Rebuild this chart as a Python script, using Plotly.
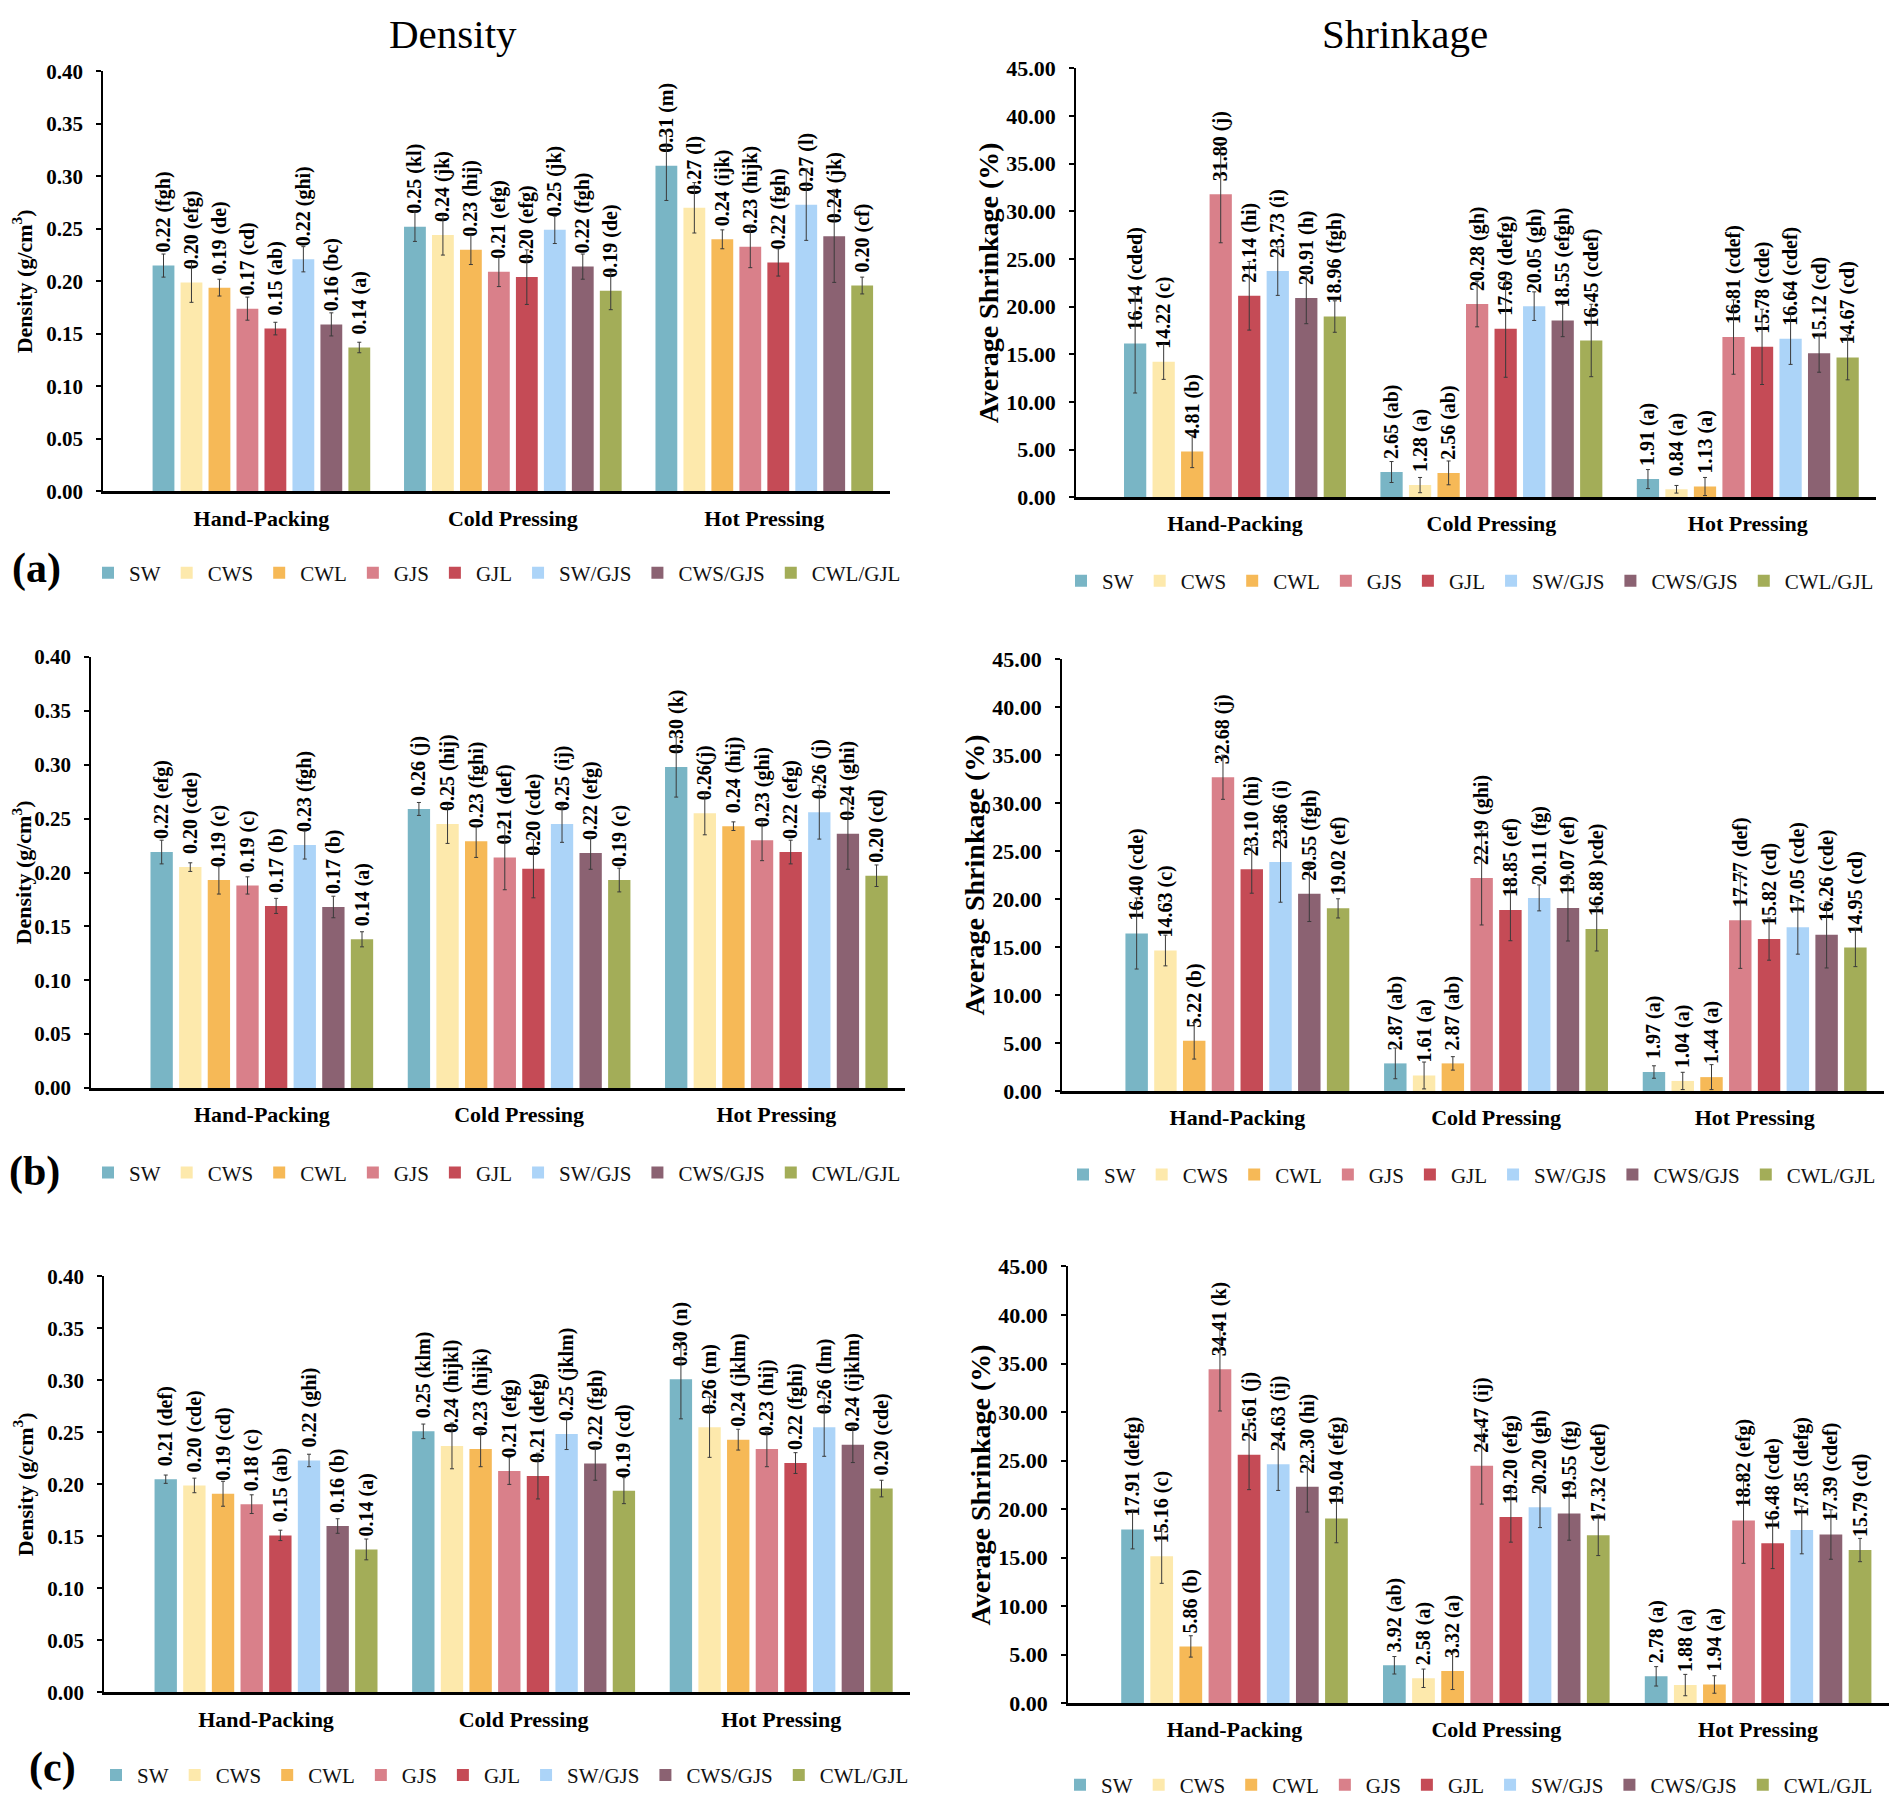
import plotly.graph_objects as go

W, H = 1902, 1802
FONT = "Liberation Serif"

categories = ["Hand-Packing", "Cold Pressing", "Hot Pressing"]
series = ["SW", "CWS", "CWL", "GJS", "GJL", "SW/GJS", "CWS/GJS", "CWL/GJL"]
colors = ["#79b5c5", "#fde9ac", "#f6b957", "#d9808a",
          "#c54b56", "#acd4f8", "#8b6272", "#a3ad58"]

# (a) density, one row per series: hand-packing, cold pressing, hot pressing
density_a = [[0.215, 0.252, 0.310], [0.199, 0.244, 0.270], [0.194, 0.230, 0.240],
             [0.174, 0.209, 0.233], [0.155, 0.204, 0.218], [0.221, 0.249, 0.273],
             [0.159, 0.214, 0.243], [0.137, 0.191, 0.196]]
density_a_err = [[0.011, 0.014, 0.033], [0.019, 0.019, 0.024], [0.008, 0.014, 0.009],
                 [0.011, 0.014, 0.020], [0.006, 0.026, 0.013], [0.012, 0.013, 0.034],
                 [0.011, 0.012, 0.044], [0.005, 0.018, 0.008]]
density_a_text = [["0.22 (fgh)", "0.25 (kl)", "0.31 (m)"],
                  ["0.20 (efg)", "0.24 (jk)", "0.27 (l)"],
                  ["0.19 (de)", "0.23 (hij)", "0.24 (ijk)"],
                  ["0.17 (cd)", "0.21 (efg)", "0.23 (hijk)"],
                  ["0.15 (ab)", "0.20 (efg)", "0.22 (fgh)"],
                  ["0.22 (ghi)", "0.25 (jk)", "0.27 (l)"],
                  ["0.16 (bc)", "0.22 (fgh)", "0.24 (jk)"],
                  ["0.14 (a)", "0.19 (de)", "0.20 (cf)"]]

# (a) shrinkage
shrink_a = [[16.14, 2.65, 1.91], [14.22, 1.28, 0.84], [4.81, 2.56, 1.13],
            [31.80, 20.28, 16.81], [21.14, 17.69, 15.78], [23.73, 20.05, 16.64],
            [20.91, 18.55, 15.12], [18.96, 16.45, 14.67]]
shrink_a_err = [[5.2, 1.1, 1.0], [1.85, 0.8, 0.4], [1.7, 1.25, 0.95],
                [5.1, 2.4, 3.9], [3.6, 5.1, 3.95], [2.55, 1.5, 2.7],
                [2.7, 1.7, 2.0], [1.65, 3.8, 2.35]]
shrink_a_text = [["16.14 (cded)", "2.65 (ab)", "1.91 (a)"],
                 ["14.22 (c)", "1.28 (a)", "0.84 (a)"],
                 ["4.81 (b)", "2.56 (ab)", "1.13 (a)"],
                 ["31.80 (j)", "20.28 (gh)", "16.81 (cdef)"],
                 ["21.14 (hi)", "17.69 (defg)", "15.78 (cde)"],
                 ["23.73 (i)", "20.05 (gh)", "16.64 (cdef)"],
                 ["20.91 (h)", "18.55 (efgh)", "15.12 (cd)"],
                 ["18.96 (fgh)", "16.45 (cdef)", "14.67 (cd)"]]

# (b) density
density_b = [[0.219, 0.259, 0.298], [0.205, 0.245, 0.255], [0.193, 0.229, 0.243],
             [0.188, 0.214, 0.230], [0.169, 0.2035, 0.219], [0.2255, 0.245, 0.256],
             [0.168, 0.218, 0.236], [0.138, 0.193, 0.197]]
density_b_err = [[0.011, 0.006, 0.028], [0.004, 0.018, 0.020], [0.013, 0.015, 0.004],
                 [0.008, 0.030, 0.019], [0.007, 0.027, 0.011], [0.013, 0.017, 0.025],
                 [0.010, 0.015, 0.033], [0.007, 0.011, 0.010]]
density_b_text = [["0.22 (efg)", "0.26 (j)", "0.30 (k)"],
                  ["0.20 (cde)", "0.25 (hij)", "0.26(j)"],
                  ["0.19 (c)", "0.23 (fghi)", "0.24 (hij)"],
                  ["0.19 (c)", "0.21 (def)", "0.23 (ghi)"],
                  ["0.17 (b)", "0.20 (cde)", "0.22 (efg)"],
                  ["0.23 (fgh)", "0.25 (ij)", "0.26 (j)"],
                  ["0.17 (b)", "0.22 (efg)", "0.24 (ghi)"],
                  ["0.14 (a)", "0.19 (c)", "0.20 (cd)"]]

# (b) shrinkage
shrink_b = [[16.40, 2.87, 1.97], [14.63, 1.61, 1.04], [5.22, 2.87, 1.44],
            [32.68, 22.19, 17.77], [23.10, 18.85, 15.82], [23.86, 20.11, 17.05],
            [20.55, 19.07, 16.26], [19.02, 16.88, 14.95]]
shrink_b_err = [[3.7, 1.6, 0.65], [1.6, 1.4, 0.9], [1.9, 0.7, 1.3],
                [2.3, 4.9, 5.0], [2.5, 3.2, 2.2], [4.2, 1.35, 2.8],
                [2.9, 3.45, 3.45], [1.0, 2.3, 2.0]]
shrink_b_text = [["16.40 (cde)", "2.87 (ab)", "1.97 (a)"],
                 ["14.63 (c)", "1.61 (a)", "1.04 (a)"],
                 ["5.22 (b)", "2.87 (ab)", "1.44 (a)"],
                 ["32.68 (j)", "22.19 (ghi)", "17.77 (def)"],
                 ["23.10 (hi)", "18.85 (ef)", "15.82 (cd)"],
                 ["23.86 (i)", "20.11 (fg)", "17.05 (cde)"],
                 ["20.55 (fgh)", "19.07 (ef)", "16.26 (cde)"],
                 ["19.02 (ef)", "16.88 )cde)", "14.95 (cd)"]]

# (c) density
density_c = [[0.205, 0.251, 0.301], [0.199, 0.237, 0.255], [0.191, 0.234, 0.243],
             [0.181, 0.213, 0.234], [0.151, 0.208, 0.2205], [0.223, 0.2485, 0.255],
             [0.160, 0.220, 0.238], [0.1375, 0.194, 0.196]]
density_c_err = [[0.004, 0.007, 0.038], [0.007, 0.022, 0.029], [0.012, 0.017, 0.010],
                 [0.009, 0.013, 0.017], [0.005, 0.022, 0.010], [0.006, 0.015, 0.028],
                 [0.007, 0.016, 0.017], [0.010, 0.0125, 0.008]]
density_c_text = [["0.21 (def)", "0.25 (klm)", "0.30 (n)"],
                  ["0.20 (cde)", "0.24 (hijkl)", "0.26 (m)"],
                  ["0.19 (cd)", "0.23 (hijk)", "0.24 (jklm)"],
                  ["0.18 (c)", "0.21 (efg)", "0.23 (hij)"],
                  ["0.15 (ab)", "0.21 (defg)", "0.22 (fghi)"],
                  ["0.22 (ghi)", "0.25 (jklm)", "0.26 (lm)"],
                  ["0.16 (b)", "0.22 (fgh)", "0.24 (ijklm)"],
                  ["0.14 (a)", "0.19 (cd)", "0.20 (cde)"]]

# (c) shrinkage
shrink_c = [[17.91, 3.92, 2.78], [15.16, 2.58, 1.88], [5.86, 3.32, 1.94],
            [34.41, 24.47, 18.82], [25.61, 19.20, 16.48], [24.63, 20.20, 17.85],
            [22.30, 19.55, 17.39], [19.04, 17.32, 15.79]]
shrink_c_err = [[2.0, 0.9, 1.0], [2.8, 0.95, 1.1], [1.1, 1.9, 0.9],
                [4.3, 3.95, 4.4], [3.6, 2.6, 2.6], [2.7, 2.1, 2.45],
                [2.6, 2.75, 2.55], [2.5, 2.1, 1.2]]
shrink_c_text = [["17.91 (defg)", "3.92 (ab)", "2.78 (a)"],
                 ["15.16 (c)", "2.58 (a)", "1.88 (a)"],
                 ["5.86 (b)", "3.32 (a)", "1.94 (a)"],
                 ["34.41 (k)", "24.47 (ij)", "18.82 (efg)"],
                 ["25.61 (j)", "19.20 (efg)", "16.48 (cde)"],
                 ["24.63 (ij)", "20.20 (gh)", "17.85 (defg)"],
                 ["22.30 (hi)", "19.55 (fg)", "17.39 (cdef)"],
                 ["19.04 (efg)", "17.32 (cdef)", "15.79 (cd)"]]


def fx(px):
    return px / W


def fy(py):
    return 1 - py / H


# plot areas in figure pixels (left, right, top, bottom), left x-range end, legend row
panels = [
    dict(vals=density_a, err=density_a_err, text=density_a_text, kind="d",
         box=(95, 882, 52, 478), x0=-0.63, legend_xy=(79, 561)),
    dict(vals=shrink_a, err=shrink_a_err, text=shrink_a_text, kind="s",
         box=(1068, 1868, 49, 484), x0=-0.62, legend_xy=(1052, 569)),
    dict(vals=density_b, err=density_b_err, text=density_b_text, kind="d",
         box=(83, 897, 646, 1083), x0=-0.664, legend_xy=(79, 1169)),
    dict(vals=shrink_b, err=shrink_b_err, text=shrink_b_text, kind="s",
         box=(1054, 1876, 648, 1086), x0=-0.678, legend_xy=(1054, 1171)),
    dict(vals=density_c, err=density_c_err, text=density_c_text, kind="d",
         box=(96, 902, 1274, 1696), x0=-0.629, legend_xy=(87, 1780)),
    dict(vals=shrink_c, err=shrink_c_err, text=shrink_c_text, kind="s",
         box=(1060, 1881, 1264, 1707), x0=-0.636, legend_xy=(1051, 1790)),
]

PAD = "\u00a0\u00a0"

fig = go.Figure()
layout = {}
for p, pan in enumerate(panels):
    n = "" if p == 0 else str(p + 1)
    leg = "legend" + n
    for i, s in enumerate(series):
        fig.add_trace(go.Bar(
            x=categories, y=pan["vals"][i], name=s,
            marker=dict(color=colors[i], line=dict(width=0)),
            error_y=dict(type="data", array=pan["err"][i], thickness=1,
                         width=2, color="#3a3a3a"),
            text=[PAD + t for t in pan["text"][i]],
            textposition="outside", textangle=-90, constraintext="none",
            textfont=dict(family=FONT, size=20, color="black", weight="bold"),
            cliponaxis=False, legend=leg,
            xaxis="x" + n, yaxis="y" + n,
        ))

    l, r, t, b = pan["box"]
    dens = pan["kind"] == "d"
    layout["xaxis" + n] = dict(
        domain=[fx(l), fx(r)], anchor="y" + n, range=[pan["x0"], 2.5],
        showline=True, linecolor="black", linewidth=2.5, showgrid=False,
        ticks="outside", ticklen=5, tickcolor="rgba(0,0,0,0)",
        tickfont=dict(family=FONT, size=22, color="black", weight="bold"),
    )
    layout["yaxis" + n] = dict(
        domain=[fy(b), fy(t)], anchor="x" + n,
        range=[0, 0.40] if dens else [0, 45],
        dtick=0.05 if dens else 5, tickformat=".2f",
        showline=True, linecolor="black", linewidth=1.5, showgrid=False,
        zeroline=False, ticks="outside", ticklen=5, tickwidth=1.5,
        tickcolor="black", ticklabelstandoff=9,
        tickfont=dict(family=FONT, size=21 if dens else 22, color="black",
                      weight="bold"),
        title=dict(text="Density (g/cm<sup>3</sup>)" if dens else "Average Shrinkage (%)",
                   standoff=8 if dens else 0,
                   font=dict(family=FONT, size=22 if dens else 28,
                             color="black", weight="bold")),
    )
    lx, ly = pan["legend_xy"]
    layout[leg] = dict(
        orientation="h", x=fx(lx), y=fy(ly), xanchor="left", yanchor="middle",
        font=dict(family=FONT, size=21, color="#111111"),
        bgcolor="rgba(0,0,0,0)", itemwidth=32, traceorder="normal",
    )

# column titles and panel letters: (text, x px, y px, size, bold)
labels = [
    ("Density", 445, 14, 41, False),
    ("Shrinkage", 1397, 14, 41, False),
    ("(a)", 28, 556, 42, True),
    ("(b)", 26, 1168, 42, True),
    ("(c)", 44, 1772, 42, True),
]

fig.update_layout(
    **layout,
    width=W, height=H,
    margin=dict(l=0, r=0, t=0, b=0),
    paper_bgcolor="white", plot_bgcolor="white",
    barmode="group", bargap=0.11, bargroupgap=0.22,
    font=dict(family=FONT, color="black"),
    annotations=[
        dict(text=txt, x=fx(x), y=fy(y), xref="paper", yref="paper",
             showarrow=False, xanchor="center", yanchor="middle",
             font=dict(family=FONT, size=size, color="black",
                       weight="bold" if bold else "normal"))
        for txt, x, y, size, bold in labels
    ],
)

fig.write_html("out.html")
